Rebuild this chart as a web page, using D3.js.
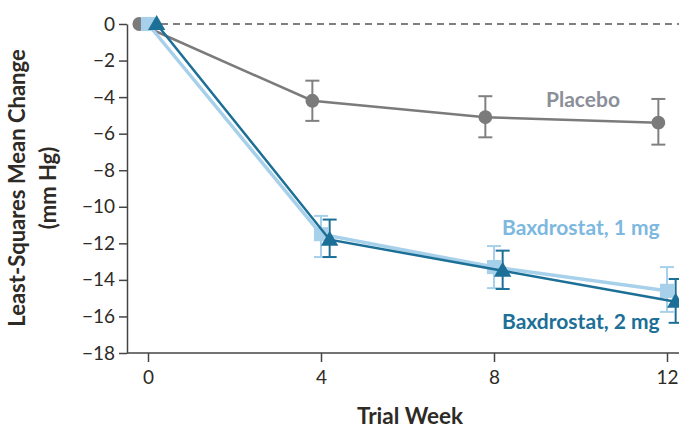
<!DOCTYPE html>
<html><head><meta charset="utf-8">
<script src="https://cdn.jsdelivr.net/npm/d3@7"></script>
<style>body{margin:0;background:#fff}svg{display:block}</style>
</head><body>
<svg id="c" width="679" height="428"></svg>
<script>
const weeks = [0, 4, 8, 12];
const yTicks = [0, -2, -4, -6, -8, -10, -12, -14, -16, -18];
const seriesNames = ["Placebo", "Baxdrostat, 1 mg", "Baxdrostat, 2 mg"];
const placeboMean = [0, -4.2, -5.1, -5.4];
const placeboLow  = [0, -5.3, -6.2, -6.6];
const placeboHigh = [0, -3.1, -3.95, -4.1];
const mg1Mean = [0, -11.5, -13.3, -14.6];
const mg1Low  = [0, -12.75, -14.45, -15.75];
const mg1High = [0, -10.5, -12.15, -13.3];
const mg2Mean = [0, -11.8, -13.5, -15.2];
const mg2Low  = [0, -12.75, -14.5, -16.35];
const mg2High = [0, -10.7, -12.4, -13.95];

const svg = d3.select("#c");
const x = d3.scaleLinear().domain([0, 12]).range([148, 667]);
const y = d3.scaleLinear().domain([-18, 0]).range([353, 24]);
const font = "Lato, 'Liberation Sans', sans-serif";
const fmt = d => d < 0 ? "\u2212" + Math.abs(d) : String(d);

// dashed zero line
svg.append("line").attr("x1", x(0.3)).attr("x2", 679).attr("y1", y(0)).attr("y2", y(0))
  .attr("stroke", "#555").attr("stroke-width", 1.5).attr("stroke-dasharray", "7,5");

// y axis
const ya = svg.append("g").attr("transform", "translate(127,0)")
  .call(d3.axisLeft(y).tickValues(yTicks).tickFormat(fmt).tickSize(8).tickSizeOuter(0));
ya.select(".domain").attr("stroke", "#444").attr("stroke-width", 1.5);
ya.selectAll(".tick line").attr("stroke", "#444").attr("stroke-width", 1.5);
ya.selectAll("text").attr("font-family", font).attr("font-size", 19).attr("fill", "#2e2a25").attr("dx", "-1");

// x axis
svg.append("line").attr("x1", 127).attr("x2", 679).attr("y1", y(-18)).attr("y2", y(-18))
  .attr("stroke", "#444").attr("stroke-width", 1.5);
const xa = svg.append("g").attr("transform", `translate(0,${y(-18)})`)
  .call(d3.axisBottom(x).tickValues(weeks).tickFormat(d3.format("d")).tickSize(9).tickSizeOuter(0));
xa.select(".domain").remove();
xa.selectAll(".tick line").attr("stroke", "#444").attr("stroke-width", 1.5);
xa.selectAll("text").attr("font-family", font).attr("font-size", 19).attr("fill", "#2e2a25").attr("dy", "1.0em");

// titles
svg.append("text").attr("transform", "translate(25,188) rotate(-90)").attr("text-anchor", "middle")
  .attr("font-family", font).attr("font-weight", "bold").attr("font-size", 22).attr("fill", "#2e2a25")
  .text("Least-Squares Mean Change");
svg.append("text").attr("transform", "translate(56,188) rotate(-90)").attr("text-anchor", "middle")
  .attr("font-family", font).attr("font-weight", "bold").attr("font-size", 22).attr("fill", "#2e2a25")
  .text("(mm Hg)");
svg.append("text").attr("x", 410).attr("y", 424).attr("text-anchor", "middle")
  .attr("font-family", font).attr("font-weight", "bold").attr("font-size", 22.5).attr("fill", "#2e2a25")
  .text("Trial Week");

const series = [
  {name: seriesNames[0], mean: placeboMean, lo: placeboLow, hi: placeboHigh, color: "#7b7b7b", lw: 2.5, off: -0.2, shape: "circle", lx: 546, ly: 107, lc: "#8a8f99"},
  {name: seriesNames[1], mean: mg1Mean, lo: mg1Low, hi: mg1High, color: "#a7d0ea", lw: 3.5, off: 0, shape: "square", lx: 502, ly: 235, lc: "#7db8df"},
  {name: seriesNames[2], mean: mg2Mean, lo: mg2Low, hi: mg2High, color: "#1c6f96", lw: 2.5, off: 0.2, shape: "triangle", lx: 502, ly: 329, lc: "#1c6f96"}
];
const ebColor = ["#808080", "#a7d0ea", "#1c6f96"];
const line = d3.line();

series.forEach((s, i) => {
  const g = svg.append("g");
  const pts = weeks.map((w, j) => [x(w + s.off), y(s.mean[j])]);
  g.append("path").attr("d", line(pts)).attr("fill", "none").attr("stroke", s.color).attr("stroke-width", s.lw);
  weeks.forEach((w, j) => {
    if (s.lo[j] === s.hi[j]) return;
    const cx = x(w + s.off);
    g.append("line").attr("x1", cx).attr("x2", cx).attr("y1", y(s.lo[j])).attr("y2", y(s.hi[j]))
      .attr("stroke", ebColor[i]).attr("stroke-width", 2);
    [s.lo[j], s.hi[j]].forEach(v => g.append("line").attr("x1", cx - 7).attr("x2", cx + 7)
      .attr("y1", y(v)).attr("y2", y(v)).attr("stroke", ebColor[i]).attr("stroke-width", 2));
  });
  const sym = s.shape === "circle" ? d3.symbolCircle : s.shape === "square" ? d3.symbolSquare : d3.symbolTriangle;
  const size = s.shape === "circle" ? 150 : s.shape === "square" ? 200 : 130;
  g.selectAll("path.m").data(pts).enter().append("path").attr("class", "m")
    .attr("transform", d => `translate(${d[0]},${d[1] + (s.shape === "triangle" ? 1 : 0)})`)
    .attr("d", d3.symbol().type(sym).size(size)).attr("fill", s.color);
  svg.append("text").attr("x", s.lx).attr("y", s.ly).attr("font-family", font).attr("font-weight", "bold")
    .attr("font-size", 21).attr("fill", s.lc).text(s.name);
});
</script>
</body></html>
